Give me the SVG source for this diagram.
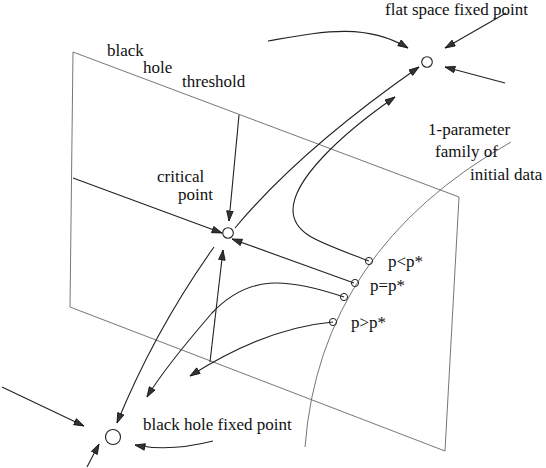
<svg xmlns="http://www.w3.org/2000/svg" width="546" height="468" viewBox="0 0 546 468">
<style>
.plane{fill:none;stroke:#666;stroke-width:0.9}
.c{fill:none;stroke:#222;stroke-width:1.1;marker-end:url(#ah)}
.pt{fill:#fff;stroke:#222;stroke-width:1.1}
.sp{fill:none;stroke:#222;stroke-width:1}
text{font-family:"Liberation Serif","Times New Roman",serif;font-size:17px;fill:#111}
</style>
<defs>
<marker id="ah" markerUnits="userSpaceOnUse" markerWidth="12" markerHeight="9" refX="10.5" refY="3.8" orient="auto">
<path d="M0.5,0.5 L10.5,3.8 L0.5,7.1 z" fill="#333" stroke="#111" stroke-width="0.8"/>
</marker>
</defs>
<g id="plane">
<path class="plane" d="M73,52 L459,197 L445,451 L70,307 Z"/>
<path class="plane" d="M511,142 Q320,250 305,447"/>
</g>
<g id="connectors">
<path class="c" d="M268,41 C320,32 365,22 408,48"/>
<path class="c" d="M506,13 L445,48"/>
<path class="c" d="M505,83 L445,67"/>
<path class="c" d="M235,228 Q300,150 419,67"/>
<path class="c" d="M369,261 C320,242 293,235 293,210 C293,180 340,135 395,97"/>
<path class="c" d="M354,283 L232,239"/>
<path class="c" d="M73,178 L222,233"/>
<path class="c" d="M239,115 L229,221"/>
<path class="c" d="M210,362 L223,250"/>
<path class="c" d="M333,322 Q265,328 190,376"/>
<path class="c" d="M344,297 C285,277 248,275 212,313 C187,342 162,372 147,397"/>
<path class="c" d="M214,247 Q155,330 117,423"/>
<path class="c" d="M2,387 L84,426"/>
<path class="c" d="M87,467 L99,444"/>
<path class="c" d="M213,441 Q170,452 135,445"/>
</g>
<g id="critical-point"><circle class="pt" cx="228" cy="233" r="5.3"/></g>
<g id="flat-space-fixed-point"><circle class="pt" cx="427" cy="62" r="5.3"/></g>
<g id="black-hole-fixed-point"><circle class="pt" cx="113" cy="437" r="7.5"/></g>
<g id="p-less"><circle class="sp" cx="369" cy="261" r="3.6"/></g>
<g id="p-equal"><circle class="sp" cx="355" cy="283" r="3.6"/></g>
<g id="p-equal-2"><circle class="sp" cx="344" cy="297" r="3.6"/></g>
<g id="p-greater"><circle class="sp" cx="333" cy="322" r="3.6"/></g>
<g id="labels">
<text x="385" y="15">flat space fixed point</text>
<text x="107" y="56">black</text>
<text x="143" y="73">hole</text>
<text x="182" y="87">threshold</text>
<text x="157" y="182">critical</text>
<text x="178" y="200">point</text>
<text x="428" y="135">1-parameter</text>
<text x="435" y="157">family of</text>
<text x="470" y="180">initial data</text>
<text x="388" y="267">p&lt;p*</text>
<text x="370" y="291">p=p*</text>
<text x="351" y="328">p&gt;p*</text>
<text x="143" y="430">black hole fixed point</text>
</g>
</svg>
